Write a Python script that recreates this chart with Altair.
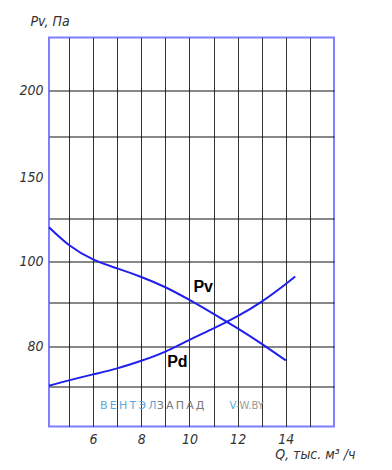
import altair as alt
import pandas as pd

# Pv curve (Q, тыс. м3/ч ; Pa)
pv_q = [4.17, 5, 6, 7, 8, 9, 10, 11, 12, 13, 14]
pv_p = [119.6, 109.3, 100.9, 98.2, 96.1, 93.6, 90.5, 87.3, 84.0, 80.5, 76.4]

# Pd curve
pd_q = [4.17, 5, 6, 7, 8, 9, 10, 11, 12, 13, 14, 14.39]
pd_p = [70.05, 71.4, 72.9, 74.4, 76.3, 78.6, 81.4, 84.0, 86.8, 90.1, 94.4, 96.2]

x_ticks = [5, 6, 7, 8, 9, 10, 11, 12, 13, 14, 15]
x_labels = [6, 8, 10, 12, 14]
y_ticks = [70, 80, 90, 100, 125, 150, 175, 200]
y_labels = [80, 100, 150, 200]

# nonuniform y axis of the original drawing (Pa -> position)
y_domain = [60, 70, 80, 90, 100, 125, 150, 175, 200, 250]
y_range = [389.2, 348.5, 308.5, 264.5, 223.5, 180.5, 139.5, 98.5, 52.5, 0]

curve_names = ["Pv", "Pd"]
curve_label_q = [10.57, 9.5]
curve_label_p = [93.6, 76.1]

T = "\u2009"
wm_text = [T.join("ВЕНТЭЛ"), T.join("ЗАПАД"), "V-", "W.BY"]
wm_q = [6.29, 8.64, 11.66, 12.08]
wm_p = [65.1, 65.1, 65.1, 65.1]
wm_size = [11, 11, 10, 10]
wm_color = ["#5fa8dd", "#7a7a7a", "#5fa8dd", "#9a9a9a"]

FONT = "Liberation Sans Narrow, DejaVu Sans Condensed, sans-serif"
BLUE = "#1f1fee"

df_pv = pd.DataFrame({"q": pv_q, "p": pv_p})
df_pd = pd.DataFrame({"q": pd_q, "p": pd_p})
df_lab = pd.DataFrame({"name": curve_names, "q": curve_label_q, "p": curve_label_p})
df_wm = pd.DataFrame({"t": wm_text, "q": wm_q, "p": wm_p, "c": wm_color, "s": wm_size})

xs = alt.Scale(domain=[4.17, 16], nice=False, zero=False)
ys = alt.Scale(domain=y_domain, range=y_range, nice=False, zero=False)

x_axis = alt.Axis(
    values=x_ticks,
    labelExpr="indexof([6,8,10,12,14], datum.value) >= 0 ? datum.label : ''",
    labelOverlap=False,
    grid=True, gridColor="#333333", gridWidth=1, gridOpacity=1,
    ticks=False, domain=False,
    labelFont=FONT, labelFontStyle="italic", labelFontSize=14, labelColor="#333333",
    labelPadding=6,
    title="Q, тыс. м³ /ч", titleX=306, titleY=32, titleAlign="right",
    titleBaseline="alphabetic",
    titleFont=FONT, titleFontStyle="italic", titleFontWeight="normal",
    titleFontSize=14, titleColor="#333333",
)
y_axis = alt.Axis(
    values=y_ticks,
    labelExpr="indexof([80,100,150,200], datum.value) >= 0 ? datum.label : ''",
    labelOverlap=False,
    grid=True, gridColor="#111111", gridWidth=1,
    gridOpacity={"condition": {"test": "datum.value == 150", "value": 0}, "value": 1},
    ticks=False, domain=False,
    labelFont=FONT, labelFontStyle="italic", labelFontSize=14, labelColor="#333333",
    labelPadding=6,
    title="Pv, Па", titleAngle=0, titleX=-19, titleY=-12, titleAlign="left",
    titleBaseline="alphabetic",
    titleFont=FONT, titleFontStyle="italic", titleFontWeight="normal",
    titleFontSize=14, titleColor="#333333",
)

enc_x = alt.X("q:Q", scale=xs, axis=x_axis)
enc_y = alt.Y("p:Q", scale=ys, axis=y_axis)

line_pv = alt.Chart(df_pv).mark_line(color=BLUE, strokeWidth=2, interpolate="natural").encode(
    x=enc_x, y=enc_y)
line_pd = alt.Chart(df_pd).mark_line(color=BLUE, strokeWidth=2, interpolate="natural").encode(
    x=enc_x, y=enc_y)
labels = alt.Chart(df_lab).mark_text(
    font="Liberation Sans, Arial, sans-serif", fontWeight="bold", fontSize=16, color="#000000"
).encode(x=enc_x, y=enc_y, text="name:N")
wm = alt.Chart(df_wm).mark_text(
    font="DejaVu Sans, sans-serif", align="left", baseline="middle"
).encode(x=enc_x, y=enc_y, text="t:N",
         color=alt.Color("c:N", scale=None),
         size=alt.Size("s:Q", scale=None))

chart = alt.layer(line_pv, line_pd, labels, wm).properties(
    width=285, height=389,
    autosize="none",
    padding={"left": 41, "top": 29.5, "right": 40, "bottom": 36},
).configure_view(stroke="#7f7fff", strokeWidth=2)

chart.save("out.html", embed_options={"renderer": "svg", "actions": False})
